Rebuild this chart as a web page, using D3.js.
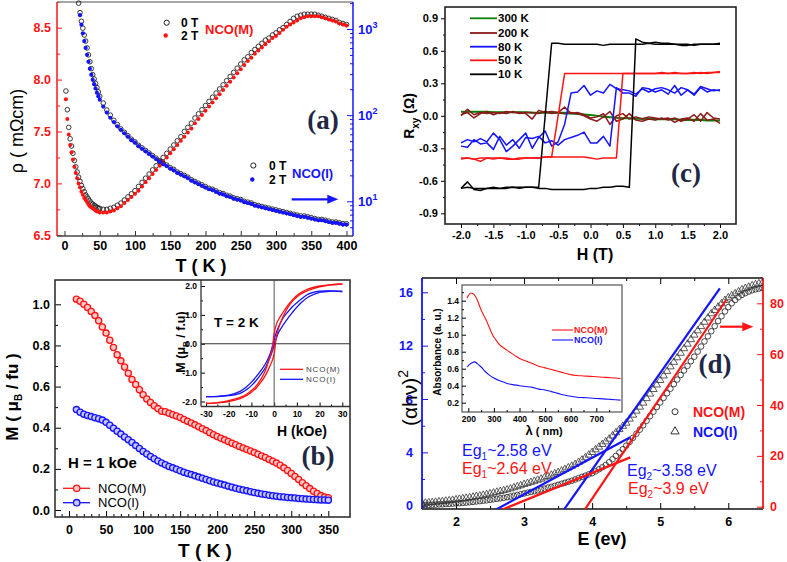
<!DOCTYPE html>
<html><head><meta charset="utf-8">
<script src="https://cdn.jsdelivr.net/npm/d3@7"></script>
<style>body{margin:0;background:#fff}svg{display:block}</style>
</head><body>
<svg id="c" width="787" height="562"></svg>
<script>
// ================= DATA =================
// Panel (a): resistivity vs T
const tM = [2,4,6,8,10,12,14,16,18,20,22,24,26,28,30,32,34,36,38,40,42,44,46,48,
 50,55,60,65,70,75,80,85,90,95,100,105,110,115,120,125,130,135,140,145,150,155,160,165,170,175,
 180,185,190,195,200,205,210,215,220,225,230,235,240,245,250,255,260,265,270,275,280,285,290,295,
 300,305,310,315,320,325,330,335,340,345,350,355,360,365,370,375,380,385,390,395,400];
const rhoM_0T = [7.89,7.71,7.54,7.43,7.36,7.29,7.22,7.16,7.11,7.06,7.02,6.98,6.95,6.92,6.89,6.87,6.85,6.83,6.81,6.80,6.79,6.78,6.77,6.76,
 6.76,6.75,6.75,6.76,6.77,6.79,6.81,6.84,6.87,6.90,6.93,6.97,7.01,7.05,7.09,7.13,7.17,7.21,7.25,7.29,7.33,7.37,7.41,7.45,7.50,7.54,
 7.58,7.63,7.67,7.71,7.75,7.79,7.83,7.87,7.91,7.95,7.99,8.03,8.07,8.11,8.15,8.19,8.22,8.26,8.29,8.32,8.35,8.38,8.40,8.43,
 8.45,8.48,8.50,8.53,8.56,8.59,8.61,8.62,8.63,8.63,8.63,8.63,8.62,8.61,8.60,8.59,8.58,8.57,8.55,8.54,8.53];
const rhoM_2T = [7.81,7.62,7.47,7.37,7.30,7.23,7.16,7.10,7.05,7.00,6.96,6.92,6.89,6.86,6.84,6.82,6.80,6.78,6.77,6.76,6.75,6.74,6.73,6.73,
 6.72,6.72,6.72,6.73,6.74,6.76,6.78,6.81,6.84,6.87,6.90,6.93,6.97,7.01,7.05,7.09,7.13,7.17,7.21,7.25,7.29,7.33,7.37,7.41,7.45,7.49,
 7.53,7.58,7.62,7.66,7.70,7.74,7.78,7.82,7.86,7.90,7.94,7.98,8.02,8.06,8.10,8.14,8.18,8.21,8.25,8.28,8.31,8.34,8.37,8.40,
 8.42,8.45,8.48,8.51,8.53,8.55,8.57,8.59,8.60,8.61,8.61,8.61,8.61,8.60,8.59,8.58,8.57,8.56,8.54,8.53,8.52];
const tI = [20,22,24,26,28,30,32,34,36,38,40,42,44,46,48,
 50,55,60,65,70,75,80,85,90,95,100,105,110,115,120,125,130,135,140,145,150,155,160,165,170,175,
 180,185,190,195,200,205,210,215,220,225,230,235,240,245,250,255,260,265,270,275,280,285,290,295,
 300,305,310,315,320,325,330,335,340,345,350,355,360,365,370,375,380,385,390,395,400];
// log10 of resistance (right, log axis)
const logI_0T = [3.30,3.19,3.09,3.01,2.93,2.86,2.78,2.70,2.62,2.54,2.47,2.42,2.37,2.32,2.27,
 2.22,2.14,2.06,2.00,1.94,1.89,1.84,1.80,1.76,1.72,1.69,1.65,1.62,1.59,1.56,1.53,1.50,1.47,1.44,1.42,1.39,1.37,1.34,1.32,1.30,1.28,
 1.25,1.23,1.21,1.19,1.17,1.15,1.14,1.12,1.10,1.09,1.07,1.06,1.04,1.03,1.02,1.00,0.99,0.98,0.96,0.95,0.94,0.93,0.92,0.91,
 0.90,0.89,0.88,0.87,0.86,0.85,0.84,0.83,0.83,0.82,0.81,0.80,0.79,0.79,0.78,0.77,0.76,0.76,0.75,0.74,0.74];
const tI2 = tI.slice(1);
const logI_2T = [3.16,3.05,2.95,2.86,2.78,2.70,2.62,2.54,2.47,2.41,2.36,2.31,2.26,2.22,
 2.18,2.10,2.03,1.97,1.92,1.87,1.83,1.79,1.75,1.71,1.68,1.64,1.61,1.58,1.55,1.52,1.49,1.46,1.43,1.41,1.38,1.36,1.33,1.31,1.29,1.27,
 1.24,1.22,1.20,1.18,1.16,1.14,1.13,1.11,1.09,1.08,1.06,1.05,1.03,1.02,1.01,0.99,0.98,0.97,0.95,0.94,0.93,0.92,0.91,0.90,
 0.89,0.88,0.87,0.86,0.85,0.84,0.83,0.82,0.82,0.81,0.80,0.79,0.78,0.78,0.77,0.76,0.75,0.75,0.74,0.73,0.73];
const aXTicks = [0,50,100,150,200,250,300,350,400];
const aYTicks = [6.5,7.0,7.5,8.0,8.5];
const aRTicks = [10,100,1000];

// Panel (c): Hall resistance loops
const hC = [-2.0,-1.9,-1.8,-1.7,-1.6,-1.5,-1.4,-1.3,-1.2,-1.1,-1.0,-0.9,-0.8,-0.7,-0.6,-0.5,-0.4,-0.3,-0.2,-0.1,
 0.0,0.1,0.2,0.3,0.4,0.5,0.6,0.7,0.8,0.9,1.0,1.1,1.2,1.3,1.4,1.5,1.6,1.7,1.8,1.9,2.0];
const r300a = [0.04,0.04,0.04,0.04,0.04,0.035,0.035,0.035,0.035,0.035,0.035,0.03,0.03,0.03,0.03,0.03,0.03,0.025,0.02,0.015,
 0.01,0.0,-0.005,-0.01,-0.015,-0.02,-0.02,-0.025,-0.025,-0.025,-0.03,-0.03,-0.03,-0.03,-0.035,-0.035,-0.035,-0.035,-0.04,-0.04,-0.04];
const r300b = [0.035,0.035,0.035,0.035,0.03,0.03,0.03,0.03,0.03,0.03,0.03,0.025,0.025,0.025,0.025,0.025,0.02,0.02,0.015,0.01,
 0.005,0.0,-0.01,-0.015,-0.02,-0.025,-0.025,-0.03,-0.03,-0.03,-0.035,-0.035,-0.035,-0.035,-0.04,-0.04,-0.04,-0.04,-0.045,-0.045,-0.045];
const r200a = [0.00,0.06,0.01,0.03,0.02,0.03,0.02,0.04,0.03,0.03,0.02,-0.03,0.05,0.03,0.04,0.03,0.08,0.02,0.03,0.01,
 -0.02,-0.01,0.02,-0.08,0.00,0.02,-0.03,-0.01,-0.03,-0.01,-0.02,-0.03,-0.02,-0.06,-0.03,-0.02,-0.05,0.02,-0.04,-0.03,-0.07];
const r200b = [0.01,0.03,-0.02,0.02,0.04,0.01,0.03,0.02,0.04,0.02,0.03,0.03,0.02,0.04,0.02,0.03,0.02,0.03,0.02,0.00,
 -0.03,-0.05,-0.01,0.04,-0.05,-0.03,0.02,-0.04,-0.05,-0.03,-0.04,-0.02,-0.04,-0.02,-0.05,-0.03,0.01,-0.05,0.03,-0.02,-0.03];
const r80down = [-0.25,-0.22,-0.24,-0.21,-0.24,-0.16,-0.22,-0.33,-0.28,-0.22,-0.16,-0.30,-0.20,-0.14,-0.28,-0.24,-0.08,0.21,0.22,0.28,
 0.19,0.23,0.21,0.29,0.25,0.24,0.23,0.20,0.25,0.22,0.25,0.26,0.24,0.21,0.26,0.24,0.20,0.27,0.25,0.23,0.24];
const r80up = [-0.28,-0.29,-0.22,-0.26,-0.25,-0.31,-0.19,-0.27,-0.22,-0.30,-0.20,-0.21,-0.19,-0.25,-0.23,-0.27,-0.22,-0.20,-0.18,-0.15,
 -0.25,-0.25,-0.19,-0.28,0.26,0.21,0.21,0.18,0.26,0.25,0.22,0.24,0.20,0.28,0.19,0.24,0.19,0.26,0.22,0.24,0.23];
const r50down = [-0.40,-0.39,-0.40,-0.39,-0.39,-0.40,-0.39,-0.39,-0.40,-0.39,-0.39,-0.39,-0.39,-0.38,-0.38,0.0,0.39,0.39,0.39,0.39,
 0.39,0.39,0.39,0.39,0.39,0.39,0.39,0.39,0.39,0.39,0.39,0.39,0.39,0.40,0.39,0.39,0.39,0.40,0.39,0.40,0.40];
const r50up = [-0.39,-0.39,-0.40,-0.42,-0.39,-0.39,-0.39,-0.40,-0.40,-0.40,-0.39,-0.39,-0.39,-0.38,-0.38,-0.38,-0.38,-0.38,-0.38,-0.38,
 -0.39,-0.40,-0.39,-0.39,-0.39,0.39,0.39,0.39,0.39,0.39,0.39,0.40,0.39,0.39,0.39,0.39,0.40,0.39,0.40,0.40,0.41];
const r10down = [-0.67,-0.66,-0.67,-0.67,-0.67,-0.66,-0.67,-0.66,-0.66,-0.66,-0.66,-0.66,-0.66,0.0,0.67,0.67,0.66,0.66,0.66,0.66,
 0.66,0.66,0.65,0.66,0.66,0.66,0.66,0.66,0.66,0.67,0.66,0.66,0.66,0.66,0.65,0.65,0.66,0.66,0.66,0.66,0.66];
const r10up = [-0.67,-0.61,-0.68,-0.69,-0.67,-0.67,-0.67,-0.67,-0.66,-0.67,-0.66,-0.66,-0.67,-0.67,-0.68,-0.68,-0.68,-0.68,-0.68,-0.68,
 -0.67,-0.67,-0.66,-0.66,-0.65,-0.65,-0.66,0.71,0.68,0.67,0.68,0.67,0.67,0.66,0.66,0.66,0.65,0.66,0.66,0.66,0.67];
const cLegend = ["300 K","200 K","80 K","50 K","10 K"];
const cXTicks = [-2.0,-1.5,-1.0,-0.5,0.0,0.5,1.0,1.5,2.0];
const cYTicks = [-0.9,-0.6,-0.3,0.0,0.3,0.6,0.9];

// Panel (b): M vs T at 1 kOe
const tB = [10,15,20,25,30,35,40,45,50,55,60,65,70,75,80,85,90,95,100,105,110,115,120,125,130,135,140,145,150,155,
 160,165,170,175,180,185,190,195,200,205,210,215,220,225,230,235,240,245,250,255,260,265,270,275,280,285,290,295,300,
 305,310,315,320,325,330,335,340,345,350];
const mB_M = [1.025,1.015,1.00,0.985,0.965,0.945,0.92,0.89,0.86,0.825,0.79,0.755,0.725,0.695,0.665,0.635,0.61,0.585,0.56,0.54,
 0.523,0.507,0.493,0.48,0.478,0.47,0.463,0.457,0.45,0.44,0.432,0.423,0.414,0.405,0.395,0.386,0.376,0.366,0.357,0.349,
 0.341,0.333,0.325,0.317,0.309,0.302,0.294,0.287,0.279,0.271,0.263,0.255,0.246,0.237,0.228,0.218,0.205,0.192,0.178,
 0.163,0.148,0.133,0.118,0.104,0.091,0.08,0.07,0.063,0.06];
const mB_I = [0.488,0.475,0.466,0.46,0.454,0.449,0.444,0.437,0.426,0.412,0.398,0.383,0.369,0.355,0.342,0.328,0.313,0.299,0.285,0.272,
 0.26,0.249,0.238,0.229,0.22,0.212,0.205,0.198,0.191,0.184,0.178,0.172,0.166,0.16,0.154,0.148,0.142,0.136,0.131,0.126,
 0.121,0.116,0.111,0.106,0.101,0.097,0.093,0.089,0.085,0.081,0.078,0.075,0.072,0.069,0.067,0.065,0.063,0.061,0.059,
 0.058,0.056,0.055,0.053,0.052,0.051,0.05,0.049,0.049,0.048];
const bXTicks = [0,50,100,150,200,250,300,350];
const bYTicks = [0.0,0.2,0.4,0.6,0.8,1.0];
// Panel (b) inset: M-H loops at 2 K
const hDown = [30,25,20,15,12,10,8,6,4,2,1,0,-1,-2,-4,-6,-8,-10,-12,-15,-20,-25,-30];
const hUp = [-30,-25,-20,-15,-12,-10,-8,-6,-4,-2,-1,0,1,2,4,6,8,10,12,15,20,25,30];
const loopM_down = [2.07,2.05,2.0,1.9,1.78,1.67,1.52,1.33,1.1,0.85,0.68,0.35,-0.25,-0.5,-0.95,-1.25,-1.47,-1.62,-1.74,-1.86,-1.97,-2.04,-2.07];
const loopM_up = [-2.07,-2.05,-2.0,-1.9,-1.79,-1.68,-1.54,-1.35,-1.12,-0.8,-0.62,-0.35,0.25,0.55,0.95,1.25,1.47,1.62,1.73,1.85,1.97,2.04,2.07];
const loopI_down = [1.81,1.83,1.82,1.72,1.55,1.42,1.28,1.1,0.9,0.6,0.4,0.15,-0.15,-0.4,-0.72,-0.95,-1.15,-1.33,-1.48,-1.65,-1.78,-1.82,-1.83];
const loopI_up = [-1.83,-1.83,-1.80,-1.72,-1.58,-1.45,-1.28,-1.08,-0.85,-0.5,-0.3,-0.05,0.2,0.4,0.65,0.88,1.08,1.27,1.43,1.62,1.78,1.82,1.81];
const biXTicks = [-30,-20,-10,0,10,20,30];
const biYTicks = [-2,-1,0,1,2];

// Panel (d): Tauc plot
const eD = [1.50,1.55,1.60,1.65,1.70,1.75,1.80,1.85,1.90,1.95,2.00,2.05,2.10,2.15,2.20,2.25,2.30,2.35,2.40,2.45,
 2.50,2.55,2.60,2.65,2.70,2.75,2.80,2.85,2.90,2.95,3.00,3.05,3.10,3.15,3.20,3.25,3.30,3.35,3.40,3.45,
 3.50,3.55,3.60,3.65,3.70,3.75,3.80,3.85,3.90,3.95,4.00,4.05,4.10,4.15,4.20,4.25,4.30,4.35,4.40,4.45,
 4.50,4.55,4.60,4.65,4.70,4.75,4.80,4.85,4.90,4.95,5.00,5.05,5.10,5.15,5.20,5.25,5.30,5.35,5.40,5.45,
 5.50,5.55,5.60,5.65,5.70,5.75,5.80,5.85,5.90,5.95,6.00,6.05,6.10,6.15,6.20,6.25,6.30,6.35,6.40,6.45,6.50];
const taucM = [0.6,0.65,0.7,0.75,0.8,0.9,0.95,1.05,1.1,1.2,1.3,1.4,1.5,1.6,1.75,1.9,2.05,2.2,2.35,2.5,
 2.7,2.9,3.1,3.3,3.5,3.75,4.0,4.3,4.6,4.9,5.2,5.5,5.8,6.1,6.4,6.8,7.1,7.5,7.8,8.2,
 8.6,9.0,9.4,9.8,10.2,10.7,11.2,11.7,12.2,12.7,13.2,13.9,14.7,15.5,16.4,17.5,18.7,20.0,21.3,22.6,
 24.0,25.5,27.1,28.7,30.3,32.0,33.8,35.6,37.4,39.2,41.0,42.8,44.6,46.4,48.2,50.0,51.8,53.6,55.4,57.2,
 59.0,61.0,63.0,65.0,67.0,69.0,71.0,73.0,74.9,76.8,78.5,80.0,81.3,82.4,83.3,84.0,84.6,85.1,85.5,85.8,86.0];
const taucI = [0.2,0.21,0.23,0.25,0.27,0.3,0.32,0.35,0.38,0.41,0.45,0.49,0.53,0.57,0.61,0.65,0.7,0.74,0.79,0.84,
 0.9,0.96,1.02,1.08,1.14,1.2,1.27,1.35,1.43,1.51,1.6,1.68,1.76,1.84,1.92,2.0,2.1,2.2,2.3,2.4,
 2.5,2.61,2.73,2.85,2.97,3.1,3.26,3.43,3.6,3.8,4.0,4.2,4.4,4.6,4.8,5.0,5.24,5.48,5.72,5.96,
 6.2,6.5,6.8,7.1,7.4,7.7,8.04,8.38,8.72,9.06,9.4,9.74,10.08,10.42,10.76,11.1,11.44,11.78,12.12,12.46,
 12.8,13.12,13.44,13.76,14.08,14.4,14.65,14.9,15.15,15.4,15.6,15.75,15.9,16.05,16.2,16.3,16.4,16.5,16.58,16.65,16.7];
// linear fits: [E, value] endpoints
const fitI1 = [[2.557,-0.375],[4.56,5.13]];
const fitI2 = [[3.575,-0.375],[5.876,16.3]];
const fitM1 = [[2.635,-1.6],[4.56,19.4]];
const fitM2 = [[3.88,-1.6],[5.97,81.4]];
const dXTicks = [2,3,4,5,6];
const dLTicks = [0,4,8,12,16];
const dRTicks = [0,20,40,60,80];
// Panel (d) inset: absorbance
const lamM = [195,200,210,220,230,240,250,260,270,280,290,300,310,320,340,360,380,400,425,450,475,500,525,550,575,600,625,650,675,700,725,750,775,795];
const absM = [1.43,1.46,1.49,1.48,1.44,1.37,1.29,1.23,1.17,1.10,1.03,0.97,0.93,0.89,0.84,0.80,0.76,0.72,0.69,0.66,0.63,0.61,0.59,0.57,0.55,0.53,0.52,0.515,0.51,0.505,0.50,0.495,0.49,0.485];
const lamI = [195,205,215,225,235,250,265,280,300,320,340,360,380,400,425,450,475,500,525,550,575,600,625,650,675,700,725,750,775,795];
const absI = [0.62,0.65,0.67,0.68,0.66,0.62,0.57,0.53,0.49,0.46,0.44,0.42,0.41,0.40,0.39,0.38,0.36,0.35,0.33,0.31,0.29,0.275,0.265,0.26,0.255,0.25,0.245,0.24,0.235,0.23];
const diXTicks = [200,300,400,500,600,700];
const diYTicks = [0.2,0.4,0.6,0.8,1.0,1.2,1.4];

// ================= DRAWING =================
const FONT = "'Liberation Sans', Arial, Helvetica, sans-serif";
const SERIF = "'Liberation Serif', 'Times New Roman', serif";
const RED = "#ff1414", BLUE = "#1414ff", DK = "#222", PANEL = "#1e2844";
const svg = d3.select("#c");

function mkAxis(gen, scale, vals, o){
  const g = svg.append("g").attr("transform", o.tr || null);
  g.call(gen(scale).tickValues(vals).tickSizeInner(o.size).tickSizeOuter(0).tickPadding(o.pad).tickFormat(o.fmt || (d=>d)));
  g.attr("font-family", FONT).attr("font-size", o.fs || 12).attr("font-weight","bold");
  g.select(".domain").remove();
  g.selectAll(".tick line").attr("stroke", o.color || "#000").attr("stroke-width", o.sw || 1);
  g.selectAll(".tick text").attr("fill", o.tcolor || o.color || "#000");
  if (o.minor){
    const gm = svg.append("g").attr("transform", o.tr || null);
    gm.call(gen(scale).tickValues(o.minor).tickSizeInner(o.msize).tickSizeOuter(0).tickFormat(""));
    gm.select(".domain").remove();
    gm.selectAll(".tick line").attr("stroke", o.color || "#000").attr("stroke-width", o.sw || 1);
  }
  return g;
}
function txt(x, y, parts, o = {}){
  const t = svg.append("text").attr("x", x).attr("y", y)
    .attr("font-family", o.ff || FONT).attr("font-size", o.fs || 12)
    .attr("font-weight", o.fw || "bold").attr("fill", o.c || "#000")
    .attr("text-anchor", o.a || "start");
  if (o.rot) t.attr("transform", `rotate(${o.rot},${x},${y})`);
  if (o.ls) t.attr("letter-spacing", o.ls);
  if (typeof parts === "string") t.text(parts);
  else parts.forEach(p => {
    const s = t.append("tspan").text(p.t);
    if (p.dy) s.attr("dy", p.dy);
    if (p.fs) s.attr("font-size", p.fs);
    if (p.c) s.attr("fill", p.c);
  });
  return t;
}
function seg(x1,y1,x2,y2,c,w){ svg.append("line").attr("x1",x1).attr("y1",y1).attr("x2",x2).attr("y2",y2).attr("stroke",c).attr("stroke-width",w); }
function arrow(x1,y,x2,c){
  seg(x1,y,x2-8,y,c,2.2);
  svg.append("path").attr("d",`M${x2},${y}L${x2-11},${y-4.5}L${x2-11},${y+4.5}Z`).attr("fill",c);
}
const fmt1 = d => d.toFixed(1);

// ---------- Panel (a) ----------
{
  const x = d3.scaleLinear().domain([0,400]).range([64.5,346.5]);
  const yL = d3.scaleLinear().domain([6.5,8.5]).range([235.3,27.7]);
  const yR = d3.scaleLog().domain([10,1000]).range([201.3,29]);
  mkAxis(d3.axisBottom, x, aXTicks, {tr:"translate(0,236)", size:-5, pad:5, fs:12.5, color:"#333", tcolor:"#000",
    minor:d3.range(25,400,50), msize:-3});
  mkAxis(d3.axisLeft, yL, aYTicks, {tr:"translate(57,0)", size:-5, pad:6, fs:12.5, color:RED, fmt:fmt1,
    minor:[6.75,7.25,7.75,8.25,8.75], msize:-3});
  mkAxis(d3.axisRight, yR, aRTicks, {tr:"translate(353,0)", size:-6, pad:0, fs:1, color:BLUE, fmt:()=>"",
    minor:[5,6,7,8,9,20,30,40,50,60,70,80,90,200,300,400,500,600,700,800,900,2000], msize:-3});
  aRTicks.forEach((v,i) => txt(358, yR(v)+5, [{t:"10"},{t:String(i+1), dy:-6, fs:9}], {fs:13, c:BLUE}));
  seg(57,2,353,2,"#8a8a8a",1.5);
  seg(57,236,353,236,"#444",1.5);
  seg(57,2,57,236,RED,1.5);
  seg(353,2,353,236,BLUE,1.5);
  // NCO(M) on left axis
  svg.append("g").selectAll("circle").data(tM).join("circle")
    .attr("cx", d=>x(d)).attr("cy", (d,i)=>yL(rhoM_0T[i])).attr("r",2.3)
    .attr("fill","none").attr("stroke",DK).attr("stroke-width",0.9);
  svg.append("g").selectAll("circle").data(tM).join("circle")
    .attr("cx", d=>x(d)).attr("cy", (d,i)=>yL(rhoM_2T[i])).attr("r",2)
    .attr("fill",RED);
  // NCO(I) on right log axis
  svg.append("g").selectAll("circle").data(tI).join("circle")
    .attr("cx", d=>x(d)).attr("cy", (d,i)=>yR(Math.pow(10,logI_0T[i]))).attr("r",2.3)
    .attr("fill","none").attr("stroke",DK).attr("stroke-width",0.9);
  svg.append("g").selectAll("circle").data(tI2).join("circle")
    .attr("cx", d=>x(d)).attr("cy", (d,i)=>yR(Math.pow(10,logI_2T[i]))).attr("r",2.1)
    .attr("fill",BLUE);
  // legends
  svg.append("circle").attr("cx",166.7).attr("cy",22.7).attr("r",2.6).attr("fill","none").attr("stroke",DK);
  svg.append("circle").attr("cx",165.7).attr("cy",35.5).attr("r",2.2).attr("fill",RED);
  txt(181,27,"0 T",{fs:12}); txt(181,40,"2 T",{fs:12});
  txt(205,34,"NCO(M)",{fs:13,c:RED});
  svg.append("circle").attr("cx",253.3).attr("cy",165.5).attr("r",2.6).attr("fill","none").attr("stroke",DK);
  svg.append("circle").attr("cx",252.3).attr("cy",179.5).attr("r",2.2).attr("fill",BLUE);
  txt(269,170,"0 T",{fs:12}); txt(269,184,"2 T",{fs:12});
  txt(292,178,"NCO(I)",{fs:13,c:BLUE});
  arrow(291.7,199.3,338.3,BLUE);
  txt(323,129,"(a)",{ff:SERIF,fs:27,c:PANEL,a:"middle"});
  txt(201,272,"T ( K )",{fs:18,a:"middle"});
  txt(23,131,"ρ ( mΩcm)",{fs:18,fw:"normal",a:"middle",rot:-90});
}

// ---------- Panel (c) ----------
{
  const x = d3.scaleLinear().domain([-2,2]).range([461,720]);
  const y = d3.scaleLinear().domain([-0.9,0.9]).range([213.3,18.3]);
  mkAxis(d3.axisBottom, x, cXTicks, {tr:"translate(0,224)", size:4, pad:3, fs:11, fmt:fmt1,
    minor:[-1.75,-1.25,-0.75,-0.25,0.25,0.75,1.25,1.75], msize:2});
  mkAxis(d3.axisLeft, y, cYTicks, {tr:"translate(445,0)", size:4, pad:3, fs:11, fmt:fmt1,
    minor:[-0.75,-0.45,-0.15,0.15,0.45,0.75], msize:2});
  svg.append("rect").attr("x",445).attr("y",7).attr("width",291).attr("height",217)
    .attr("fill","none").attr("stroke","#222").attr("stroke-width",1.6);
  const line = d3.line().x((d,i)=>x(hC[i])).y(d=>y(d));
  const series = [
    {a:r300a, b:r300b, c:"#0a800a"},
    {a:r200a, b:r200b, c:"#8b1a1a"},
    {a:r80down, b:r80up, c:BLUE},
    {a:r50down, b:r50up, c:RED},
    {a:r10down, b:r10up, c:"#000"}
  ];
  series.forEach(s => {
    [s.a, s.b].forEach(arr => svg.append("path").attr("d", line(arr)).attr("fill","none")
      .attr("stroke", s.c).attr("stroke-width", 1.5).attr("stroke-linejoin","round"));
  });
  const ly = [18.3,33,46.7,60.3,74.3];
  cLegend.forEach((l,i) => {
    seg(470, ly[i], 497, ly[i], series[i].c, 1.8);
    txt(498, ly[i]+4, l, {fs:11.5});
  });
  txt(686,182,"(c)",{ff:SERIF,fs:27,c:PANEL,a:"middle"});
  txt(595,260,"H (T)",{fs:16,a:"middle"});
  txt(414,116,[{t:"R"},{t:"xy",dy:5,fs:10},{t:" (Ω)",dy:-5}],{fs:14,a:"middle",rot:-90});
}

// ---------- Panel (b) ----------
{
  const x = d3.scaleLinear().domain([0,350]).range([69,328.3]);
  const y = d3.scaleLinear().domain([0,1]).range([510,304.3]);
  mkAxis(d3.axisBottom, x, bXTicks, {tr:"translate(0,517)", size:-6, pad:8, fs:12.5,
    minor:d3.range(-10,360,10).filter(v=>v%50!==0), msize:-3});
  mkAxis(d3.axisLeft, y, bYTicks, {tr:"translate(55,0)", size:-6, pad:5, fs:12.5, fmt:fmt1,
    minor:[0.1,0.3,0.5,0.7,0.9], msize:-3});
  svg.append("rect").attr("x",55).attr("y",280).attr("width",295).attr("height",237)
    .attr("fill","none").attr("stroke","#333").attr("stroke-width",1.6);
  const line = d3.line().x((d,i)=>x(tB[i])).y(d=>y(d));
  [[mB_M,RED,"#ffc8c8"],[mB_I,BLUE,"#c8c8ff"]].forEach(([arr,c,f]) => {
    svg.append("path").attr("d", line(arr)).attr("fill","none").attr("stroke",c).attr("stroke-width",1.2);
    svg.append("g").selectAll("circle").data(arr).join("circle")
      .attr("cx",(d,i)=>x(tB[i])).attr("cy",d=>y(d)).attr("r",3.1)
      .attr("fill",f).attr("stroke",c).attr("stroke-width",1.3);
  });
  // legend
  [[488.3,RED,"#ffc8c8","NCO(M)"],[502.7,BLUE,"#c8c8ff","NCO(I)"]].forEach(([ly,c,f,l]) => {
    seg(63,ly,90,ly,c,1.3);
    svg.append("circle").attr("cx",76.7).attr("cy",ly).attr("r",3.2).attr("fill",f).attr("stroke",c).attr("stroke-width",1.3);
    txt(98,ly+4.5,l,{fs:13,fw:"normal"});
  });
  txt(68,468,"H = 1 kOe",{fs:15});
  txt(318,465,"(b)",{ff:SERIF,fs:27,c:PANEL,a:"middle"});
  txt(205,557,"T ( K )",{fs:19,a:"middle"});
  txt(18,397,[{t:"M  ( μ"},{t:"B",dy:4,fs:10},{t:" / fu )",dy:-4}],{fs:17,a:"middle",rot:-90});

  // inset
  const xi = d3.scaleLinear().domain([-30,30]).range([206,342.3]);
  const yi = d3.scaleLinear().domain([-2,2]).range([401.5,286]);
  svg.append("rect").attr("x",201).attr("y",281).attr("width",148).attr("height",125.5).attr("fill","#fff");
  mkAxis(d3.axisBottom, xi, biXTicks, {tr:"translate(0,406.5)", size:-4, pad:4, fs:8.5,
    minor:[-25,-15,-5,5,15,25], msize:-2});
  mkAxis(d3.axisLeft, yi, biYTicks, {tr:"translate(201,0)", size:-4, pad:4, fs:8.5, fmt:fmt1,
    minor:[-1.5,-0.5,0.5,1.5], msize:-2});
  seg(201,280,201,406.5,"#333",1.3);
  seg(201,406.5,350,406.5,"#333",1.3);
  seg(xi(0),280,xi(0),406.5,"#555",1);
  seg(201,yi(0),350,yi(0),"#333",1);
  const loopLine = (hs) => d3.line().x((d,i)=>xi(hs[i])).y(d=>yi(d)).curve(d3.curveCatmullRom);
  svg.append("path").attr("d", loopLine(hDown)(loopI_down)).attr("fill","none").attr("stroke",BLUE).attr("stroke-width",1.3);
  svg.append("path").attr("d", loopLine(hUp)(loopI_up)).attr("fill","none").attr("stroke",BLUE).attr("stroke-width",1.3);
  svg.append("path").attr("d", loopLine(hDown)(loopM_down)).attr("fill","none").attr("stroke",RED).attr("stroke-width",1.3);
  svg.append("path").attr("d", loopLine(hUp)(loopM_up)).attr("fill","none").attr("stroke",RED).attr("stroke-width",1.3);
  seg(280,369.3,303,369.3,RED,1.3); seg(280,379.3,303,379.3,BLUE,1.3);
  txt(306,372.3,"NCO(M)",{fs:8,fw:"normal",c:"#444",ls:0.8});
  txt(306,382.3,"NCO(I)",{fs:8,fw:"normal",c:"#444",ls:0.8});
  txt(214,327,"T = 2 K",{fs:13.5});
  txt(302,436,"H  (kOe)",{fs:14,a:"middle"});
  txt(185,342,[{t:"M  (μ"},{t:"B",dy:3,fs:8},{t:" / f.u)",dy:-3}],{fs:12.5,a:"middle",rot:-90});
}

// ---------- Panel (d) ----------
{
  const x = d3.scaleLinear().domain([2,6]).range([456,728.3]);
  const yL = d3.scaleLinear().domain([0,16]).range([505.7,292.3]);
  const yR = d3.scaleLinear().domain([0,80]).range([506.7,303.3]);
  mkAxis(d3.axisBottom, x, dXTicks, {tr:"translate(0,509)", size:-6, pad:8, fs:12.5,
    minor:[1.5,2.5,3.5,4.5,5.5,6.5], msize:-3});
  mkAxis(d3.axisTop, x, dXTicks, {tr:"translate(0,278)", size:-6, pad:0, fs:1, fmt:()=>"",
    minor:[1.5,2.5,3.5,4.5,5.5,6.5], msize:-3});
  mkAxis(d3.axisLeft, yL, dLTicks, {tr:"translate(422,0)", size:-6, pad:9, fs:12.5, color:BLUE,
    minor:[2,6,10,14], msize:-3});
  mkAxis(d3.axisRight, yR, dRTicks, {tr:"translate(763,0)", size:-6, pad:7, fs:12.5, color:RED,
    minor:[10,30,50,70], msize:-3});
  seg(422,278,763,278,"#111",1.5);
  seg(422,509,763,509,"#111",1.5);
  seg(422,278,422,509,BLUE,1.8);
  seg(763,278,763,509,RED,1.8);
  svg.append("defs").append("clipPath").attr("id","clipD").append("rect")
    .attr("x",422).attr("y",278).attr("width",341).attr("height",231);
  const gd = svg.append("g").attr("clip-path","url(#clipD)");
  gd.append("g").selectAll("circle").data(eD).join("circle")
    .attr("cx",d=>x(d)).attr("cy",(d,i)=>yR(taucM[i])).attr("r",2.8)
    .attr("fill","none").attr("stroke","#333").attr("stroke-width",0.9);
  const tri = d3.symbol().type(d3.symbolTriangle).size(24);
  gd.append("g").selectAll("path").data(eD).join("path")
    .attr("transform",(d,i)=>`translate(${x(d)},${yL(taucI[i])})`)
    .attr("d",tri).attr("fill","none").attr("stroke","#333").attr("stroke-width",0.8);
  const fl = (pts, ys) => d3.line().x(d=>x(d[0])).y(d=>ys(d[1]))(pts);
  gd.append("path").attr("d",fl(fitI1,yL)).attr("stroke",BLUE).attr("stroke-width",2.2);
  gd.append("path").attr("d",fl(fitI2,yL)).attr("stroke",BLUE).attr("stroke-width",2.2);
  gd.append("path").attr("d",fl(fitM1,yR)).attr("stroke",RED).attr("stroke-width",2.2);
  gd.append("path").attr("d",fl(fitM2,yR)).attr("stroke",RED).attr("stroke-width",2.2);
  // annotations
  txt(462,456,[{t:"Eg"},{t:"1",dy:4,fs:10},{t:"~2.58 eV",dy:-4}],{fs:16,fw:"normal",c:BLUE});
  txt(462,474,[{t:"Eg"},{t:"1",dy:4,fs:10},{t:"~2.64 eV",dy:-4}],{fs:16,fw:"normal",c:RED});
  txt(627,476,[{t:"Eg"},{t:"2",dy:4,fs:10},{t:"~3.58 eV",dy:-4}],{fs:16,fw:"normal",c:BLUE});
  txt(628,494,[{t:"Eg"},{t:"2",dy:4,fs:10},{t:"~3.9 eV",dy:-4}],{fs:16,fw:"normal",c:RED});
  svg.append("circle").attr("cx",675).attr("cy",411.7).attr("r",3).attr("fill","none").attr("stroke","#333");
  svg.append("path").attr("transform","translate(675,431.5)").attr("d",d3.symbol().type(d3.symbolTriangle).size(30)()).attr("fill","none").attr("stroke","#333");
  txt(693,417,"NCO(M)",{fs:14,c:RED});
  txt(693,437,"NCO(I)",{fs:14,c:BLUE});
  arrow(720,326.7,753.3,RED);
  txt(715,373,"(d)",{ff:SERIF,fs:27,c:PANEL,a:"middle"});
  txt(602,545,"E (ev)",{fs:18,a:"middle"});
  txt(417,398,[{t:"(αhν)"},{t:"2",dy:-9,fs:14}],{fs:21,fw:"normal",a:"middle",rot:-90});

  // inset
  const xi = d3.scaleLinear().domain([200,700]).range([468.3,596.3]);
  const yi = d3.scaleLinear().domain([0.2,1.4]).range([402.7,300.7]);
  svg.append("rect").attr("x",462).attr("y",285).attr("width",160).attr("height",127)
    .attr("fill","#fff").attr("stroke","#444").attr("stroke-width",1.1);
  mkAxis(d3.axisBottom, xi, diXTicks, {tr:"translate(0,412)", size:-4, pad:4, fs:8.5,
    minor:[250,350,450,550,650,750], msize:-2});
  mkAxis(d3.axisLeft, yi, diYTicks, {tr:"translate(462,0)", size:-4, pad:3, fs:8.5, fmt:fmt1,
    minor:[0.3,0.5,0.7,0.9,1.1,1.3,1.5], msize:-2});
  const li = (lx, ly) => d3.line().x((d,i)=>xi(lx[i])).y(d=>yi(d)).curve(d3.curveMonotoneX)(ly);
  svg.append("path").attr("d",li(lamM,absM)).attr("fill","none").attr("stroke",RED).attr("stroke-width",1.1);
  svg.append("path").attr("d",li(lamI,absI)).attr("fill","none").attr("stroke",BLUE).attr("stroke-width",1.1);
  seg(552,330,573,330,RED,1.1); seg(552,340,573,340,BLUE,1.1);
  txt(574,333,"NCO(M)",{fs:9,c:RED});
  txt(574,343,"NCO(I)",{fs:9,c:BLUE});
  txt(544,435,[{t:"λ",fs:13},{t:" ( nm)"}],{fs:11,a:"middle"});
  txt(441,352,"Absorbance (a. u.)",{fs:10,a:"middle",rot:-90});
}
</script>
</body></html>
